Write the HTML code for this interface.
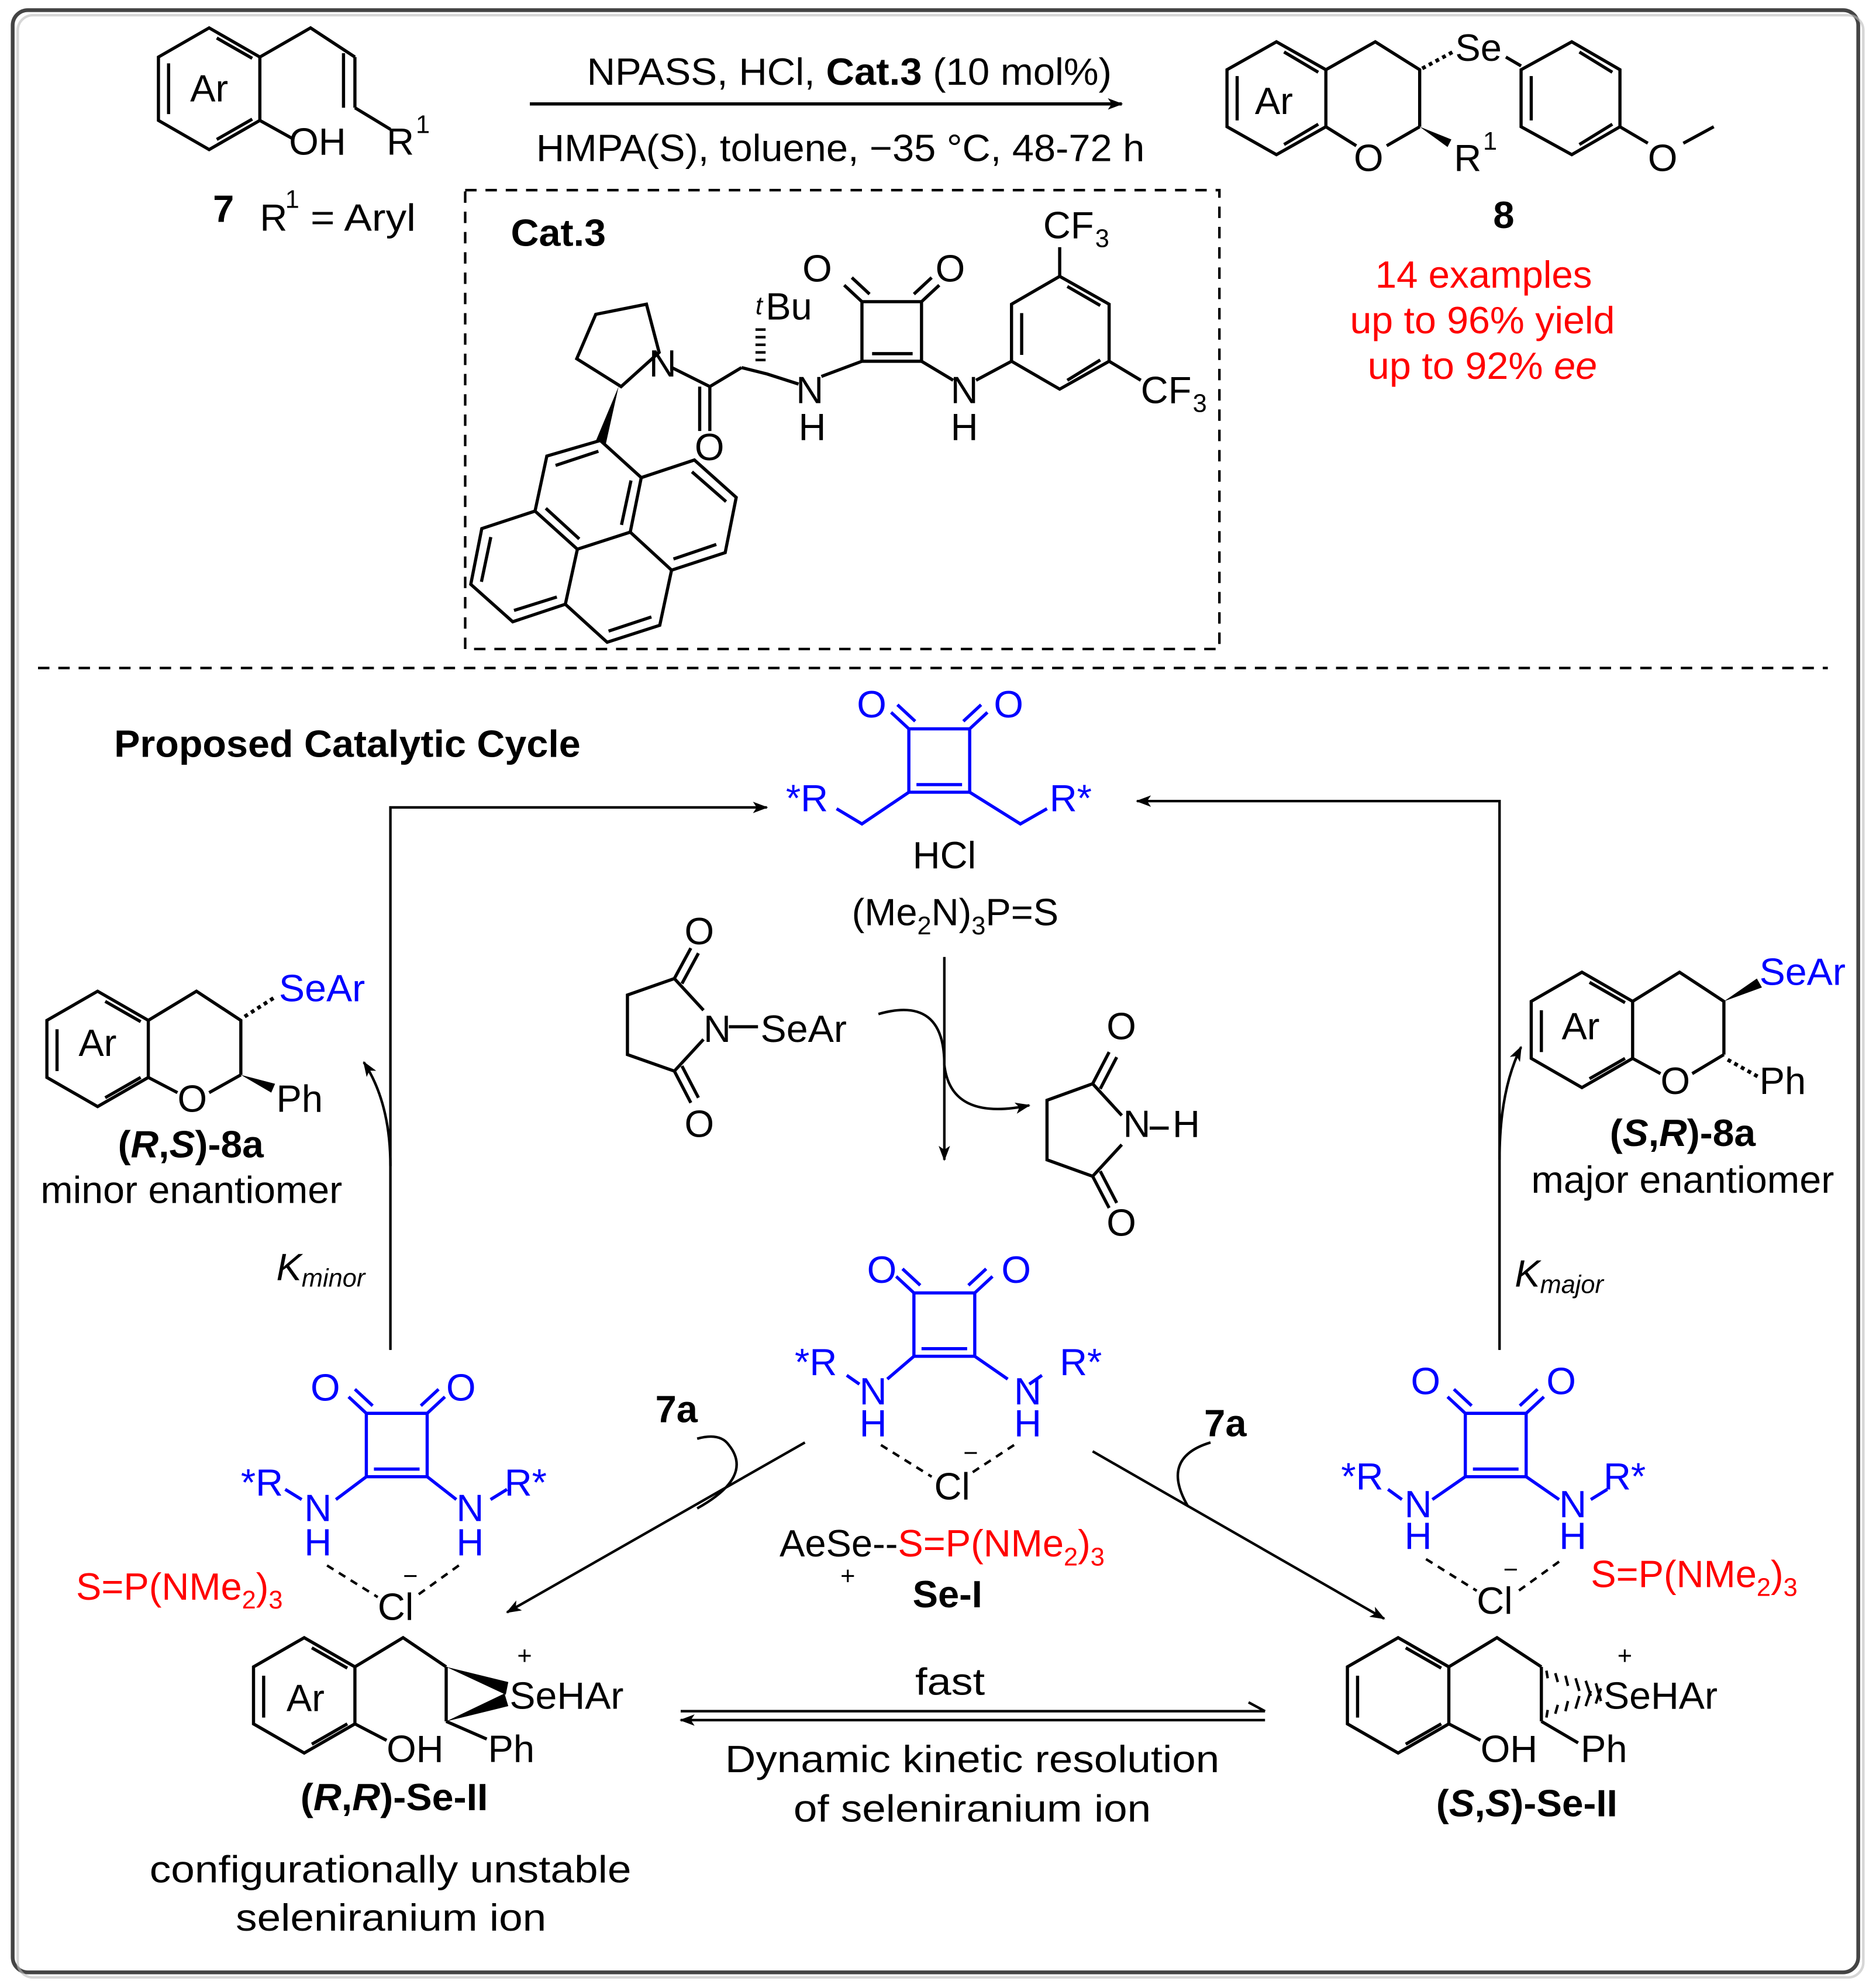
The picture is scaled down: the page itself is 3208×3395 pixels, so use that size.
<!DOCTYPE html>
<html><head><meta charset="utf-8"><style>
html,body{margin:0;padding:0;background:#fff}
svg{display:block}
text{font-family:"Liberation Sans",Arial,sans-serif;font-size:30px;fill:#000}
.b{font-weight:bold}
.r{fill:#f00}
.bl{fill:#00f}
.s{font-size:20px}
</style></head><body>
<svg width="3208" height="3395" viewBox="0 0 1480 1566" preserveAspectRatio="none" xmlns="http://www.w3.org/2000/svg">
<defs>
<marker id="ah" markerWidth="12" markerHeight="9" refX="11" refY="4.5" orient="auto" markerUnits="userSpaceOnUse"><path d="M0,0 L12,4.5 L0,9 L3,4.5z" fill="#000"/></marker>
<g id="sq" fill="none" stroke="#00f" stroke-width="2.5">
<path d="M-24,-25 L24,-25 L24,25 L-24,25 Z"/>
<path d="M-18,19 L18,19"/>
<path d="M-24,-25 L-38,-38 M-19,-31 L-33,-44"/>
<path d="M24,-25 L38,-38 M19,-31 L33,-44"/>
</g>
</defs>
<rect x="10" y="8" width="1456" height="1548" rx="12" fill="#fff" stroke="#444" stroke-width="3"/>
<rect x="14" y="12" width="1456" height="1548" rx="12" fill="none" stroke="#bbb" stroke-width="2" opacity=".6"/>
<line x1="30" y1="527" x2="1442" y2="527" stroke="#000" stroke-width="2" stroke-dasharray="9,7"/>
<rect x="367" y="150" width="595" height="362" fill="none" stroke="#000" stroke-width="2" stroke-dasharray="9,7"/>

<g fill="none" stroke="#000" stroke-width="2.5">
<path d="M125,45 L165,22 L205,45 L205,95 L165,118 L125,95 Z"/>
<path d="M133,50 L133,90 M171,110 L199,94 M171,30 L199,46"/>
<path d="M205,45 L245,22 L280,45 M271,42 L271,85 M280,45 L280,85 M280,85 L308,102"/>
<path d="M205,95 L232,110"/>
<line x1="418" y1="82" x2="885" y2="82" marker-end="url(#ah)"/>
<path d="M968,55 L1007,33 L1046,55 L1046,100 L1007,122 L968,100 Z"/>
<path d="M976,60 L976,95 M1013,114 L1040,98 M1013,41 L1040,57"/>
<path d="M1046,55 L1085,33 L1120,55 L1120,100 M1046,100 L1070,115 M1094,115 L1120,100"/>
<path d="M1122,54 L1148,40" stroke-dasharray="3,3" stroke-width="3"/>
<path d="M1188,45 L1200,52"/>
<path d="M1200,55 L1240,33 L1278,55 L1278,100 L1240,122 L1200,100 Z"/>
<path d="M1208,60 L1208,95 M1246,114 L1272,98 M1246,41 L1272,57"/>
<path d="M1278,100 L1300,113 M1328,113 L1352,100"/>
</g>
<path d="M1120,100 L1142,116 L1145,110 Z" fill="#000"/>
<text x="150" y="80">Ar</text>
<text x="228" y="122">OH</text>
<text x="305" y="122">R</text><text x="328" y="105" class="s">1</text>
<text x="168" y="175" class="b">7</text>
<text x="205" y="182">R</text><text x="225" y="164" class="s">1</text><text x="245" y="182" textLength="83" lengthAdjust="spacingAndGlyphs">= Aryl</text>
<text x="463" y="67" textLength="414" lengthAdjust="spacingAndGlyphs">NPASS, HCl, <tspan class="b">Cat.3</tspan> (10 mol%)</text>
<text x="423" y="127" textLength="480" lengthAdjust="spacingAndGlyphs">HMPA(S), toluene, −35 °C, 48-72 h</text>
<text x="990" y="90">Ar</text>
<text x="1068" y="135">O</text>
<text x="1147" y="135">R</text><text x="1170" y="118" class="s">1</text>
<text x="1148" y="48">Se</text>
<text x="1300" y="135">O</text>
<text x="1178" y="180" class="b">8</text>
<text x="1085" y="227" class="r" textLength="171" lengthAdjust="spacingAndGlyphs">14 examples</text>
<text x="1065" y="263" class="r" textLength="209" lengthAdjust="spacingAndGlyphs">up to 96% yield</text>
<text x="1079" y="299" class="r" textLength="181" lengthAdjust="spacingAndGlyphs">up to 92% <tspan font-style="italic">ee</tspan></text>

<!-- Cat.3 -->
<text x="403" y="194" class="b" textLength="75" lengthAdjust="spacingAndGlyphs">Cat.3</text>
<g fill="none" stroke="#000" stroke-width="2.5">
<path d="M455,283 L470,248 L510,240 L520,278 L490,305 Z"/>
<path d="M530,290 L560,305 L585,290 M560,305 L560,340 M552,305 L552,340"/>
<path d="M585,290 L605,295 L630,303"/>
<path d="M600,285 L600,257" stroke-width="8" stroke-dasharray="2,4"/>
<path d="M648,297 L680,285 L680,238 L727,238 L727,285 L680,285 M688,279 L720,279"/>
<path d="M680,238 L666,225 M686,232 L672,219 M727,238 L741,225 M721,232 L735,219"/>
<path d="M727,285 L752,300 M770,300 L798,285"/>
<path d="M798,285 L798,240 L836,218 L875,240 L875,285 L836,307 Z M806,247 L806,280 M842,300 L868,284 M842,226 L868,241"/>
<path d="M836,218 L836,195 M875,285 L900,300"/>
<!-- pyrene -->
<path d="M473.6,347.5 L431.4,359.8 L422.1,403.2 L455.5,433.3 L497.2,419.8 L505.9,376.8 Z"/>
<path d="M505.9,376.8 L547.8,362.9 L580.8,392.4 L572.1,436 L529.8,449.8 L497.2,419.8"/>
<path d="M422.1,403.2 L380.1,417 L371.4,461 L404.5,490.5 L446,476.7 L455.5,433.3"/>
<path d="M446,476.7 L479,506.7 L520.5,493.3 L529.8,449.8"/>
<path d="M438.3,367.2 L472.1,356 M430.6,401 L457,425.2 M490.3,414.1 L497.8,379.1 M545.9,372.2 L572.8,395.7 M531.3,441 L565.1,429.5 M379.8,459 L387.2,423.7 M405.5,481.6 L439.3,471 M480.1,497.9 L513.9,486.7"/>
</g>
<path d="M488,305 L470,348 L478,350 Z" fill="#000"/>
<text x="512" y="297">N</text>
<text x="548" y="363">O</text>
<text x="596" y="248" class="s" font-style="italic">t</text><text x="604" y="252">Bu</text>
<text x="633" y="222">O</text><text x="738" y="222">O</text>
<text x="628" y="318">N</text><text x="630" y="347">H</text>
<text x="750" y="318">N</text><text x="750" y="347">H</text>
<text x="823" y="188">CF</text><text x="864" y="195" class="s">3</text>
<text x="900" y="318">CF</text><text x="941" y="325" class="s">3</text>

<text x="90" y="597" class="b" textLength="368" lengthAdjust="spacingAndGlyphs">Proposed Catalytic Cycle</text>

<!-- cycle arrows -->
<g fill="none" stroke="#000" stroke-width="2">
<path d="M308,1065 L308,637 L605,637" marker-end="url(#ah)"/>
<path d="M1183,1065 L1183,632 L897,632" marker-end="url(#ah)"/>
<path d="M308,920 Q308,870 287,838" marker-end="url(#ah)"/>
<path d="M1183,915 Q1183,860 1200,826" marker-end="url(#ah)"/>
<line x1="745" y1="755" x2="745" y2="915" marker-end="url(#ah)"/>
<path d="M693,800 Q745,785 745,840 Q750,885 812,872" marker-end="url(#ah)"/>
<line x1="635" y1="1138" x2="400" y2="1272" marker-end="url(#ah)"/>
<line x1="862" y1="1145" x2="1092" y2="1277" marker-end="url(#ah)"/>
<path d="M550,1190 Q595,1165 575,1140 Q568,1130 550,1135" />
<path d="M937,1188 Q915,1150 955,1138"/>
<path d="M537,1350 L998,1350"/>
<path d="M998,1357 L537,1357" marker-end="url(#ah)"/>
<path d="M998,1350 L985,1343"/>
</g>

<!-- central top squaramide -->
<use href="#sq" x="741" y="600"/>
<g fill="none" stroke="#00f" stroke-width="2.5"><path d="M717,625 L680,650 L660,638 M765,625 L805,650 L826,638"/></g>
<text x="676" y="566" class="bl">O</text><text x="784" y="566" class="bl">O</text>
<text x="620" y="640" class="bl">*R</text><text x="828" y="640" class="bl">R*</text>
<text x="720" y="685" textLength="50" lengthAdjust="spacingAndGlyphs">HCl</text>
<text x="672" y="730">(Me<tspan class="s" dy="7">2</tspan><tspan dy="-7">N)</tspan><tspan class="s" dy="7">3</tspan><tspan dy="-7">P=S</tspan></text>

<!-- succinimides -->
<g fill="none" stroke="#000" stroke-width="2.5">
<path d="M555,797 L532,772 L495,785 L495,832 L532,845 L555,820"/>
<path d="M532,772 L545,748 M538,776 L551,752 M532,845 L545,870 M538,841 L551,866"/>
<path d="M575,810 L598,810"/>
<path d="M885,880 L862,855 L826,868 L826,915 L862,928 L885,903"/>
<path d="M862,855 L875,830 M868,859 L881,834 M862,928 L875,953 M868,924 L881,949"/>
<path d="M907,890 L922,890"/>
</g>
<text x="540" y="745">O</text><text x="540" y="897">O</text>
<text x="555" y="822">N</text><text x="600" y="822" textLength="68" lengthAdjust="spacingAndGlyphs">SeAr</text>
<text x="873" y="820">O</text><text x="873" y="975">O</text>
<text x="886" y="897">N</text><text x="925" y="897">H</text>

<!-- left product -->
<g fill="none" stroke="#000" stroke-width="2.5">
<path d="M37,805 L77,782 L117,805 L117,850 L77,873 L37,850 Z M45,812 L45,845 M83,866 L111,850 M83,790 L111,806"/>
<path d="M117,805 L155,782 L190,805 L190,848 M117,850 L140,862 M165,862 L190,848"/>
<path d="M193,802 L218,786" stroke-dasharray="3,3" stroke-width="3"/>
</g>
<path d="M190,848 L214,862 L217,855 Z" fill="#000"/>
<text x="62" y="833">Ar</text><text x="140" y="877">O</text><text x="218" y="877">Ph</text>
<text x="220" y="790" class="bl" textLength="68" lengthAdjust="spacingAndGlyphs">SeAr</text>
<text x="93" y="913" class="b" textLength="115" lengthAdjust="spacingAndGlyphs">(<tspan font-style="italic">R</tspan>,<tspan font-style="italic">S</tspan>)-8a</text>
<text x="32" y="949" textLength="238" lengthAdjust="spacingAndGlyphs">minor enantiomer</text>
<text x="218" y="1010" font-style="italic">K<tspan class="s" dy="5">minor</tspan></text>

<!-- right product -->
<g fill="none" stroke="#000" stroke-width="2.5">
<path d="M1208,790 L1248,767 L1288,790 L1288,835 L1248,858 L1208,835 Z M1216,797 L1216,830 M1254,851 L1282,835 M1254,775 L1282,791"/>
<path d="M1288,790 L1325,767 L1360,790 L1360,832 M1288,835 L1310,847 M1335,847 L1360,832"/>
<path d="M1363,836 L1388,850" stroke-dasharray="3,3" stroke-width="3"/>
</g>
<path d="M1360,790 L1386,772 L1390,779 Z" fill="#000"/>
<text x="1232" y="820">Ar</text><text x="1310" y="863">O</text><text x="1388" y="863">Ph</text>
<text x="1388" y="777" class="bl" textLength="68" lengthAdjust="spacingAndGlyphs">SeAr</text>
<text x="1270" y="904" class="b" textLength="115" lengthAdjust="spacingAndGlyphs">(<tspan font-style="italic">S</tspan>,<tspan font-style="italic">R</tspan>)-8a</text>
<text x="1208" y="941" textLength="239" lengthAdjust="spacingAndGlyphs">major enantiomer</text>
<text x="1195" y="1015" font-style="italic">K<tspan class="s" dy="5">major</tspan></text>

<!-- center Se-I squaramide -->
<use href="#sq" x="745" y="1045"/>
<g fill="none" stroke="#00f" stroke-width="2.5"><path d="M721,1070 L700,1088 M769,1070 L795,1088 M668,1085 L678,1092 M822,1085 L812,1092"/></g>
<text x="684" y="1012" class="bl">O</text><text x="790" y="1012" class="bl">O</text>
<text x="627" y="1085" class="bl">*R</text><text x="836" y="1085" class="bl">R*</text>
<text x="678" y="1108" class="bl">N</text><text x="678" y="1133" class="bl">H</text>
<text x="800" y="1108" class="bl">N</text><text x="800" y="1133" class="bl">H</text>
<path d="M695,1140 L735,1165 M800,1140 L765,1163" stroke="#000" stroke-width="2" stroke-dasharray="6,5"/>
<text x="737" y="1183">Cl</text><text x="760" y="1153" class="s">−</text>
<text x="615" y="1228">AeSe--<tspan class="r">S=P(NMe</tspan><tspan class="r s" dy="7">2</tspan><tspan class="r" dy="-7">)</tspan><tspan class="r s" dy="7">3</tspan></text>
<text x="663" y="1250" class="s">+</text>
<text x="720" y="1268" class="b">Se-I</text>
<text x="517" y="1122" class="b">7a</text>
<text x="950" y="1133" class="b">7a</text>

<!-- left squaramide -->
<use href="#sq" x="313" y="1140"/>
<g fill="none" stroke="#00f" stroke-width="2.5"><path d="M289,1165 L265,1183 M337,1165 L360,1183 M225,1175 L238,1183 M400,1175 L387,1183"/></g>
<text x="245" y="1105" class="bl">O</text><text x="352" y="1105" class="bl">O</text>
<text x="190" y="1180" class="bl">*R</text><text x="398" y="1180" class="bl">R*</text>
<text x="240" y="1200" class="bl">N</text><text x="240" y="1227" class="bl">H</text>
<text x="360" y="1200" class="bl">N</text><text x="360" y="1227" class="bl">H</text>
<path d="M258,1235 L298,1260 M362,1235 L330,1258" stroke="#000" stroke-width="2" stroke-dasharray="6,5"/>
<text x="298" y="1278">Cl</text><text x="318" y="1250" class="s">−</text>
<text x="60" y="1262" class="r">S=P(NMe<tspan class="s" dy="7">2</tspan><tspan dy="-7">)</tspan><tspan class="s" dy="7">3</tspan></text>

<!-- right squaramide -->
<use href="#sq" x="1180" y="1140"/>
<g fill="none" stroke="#00f" stroke-width="2.5"><path d="M1156,1165 L1130,1183 M1204,1165 L1230,1183 M1095,1175 L1106,1183 M1268,1175 L1255,1183"/></g>
<text x="1113" y="1100" class="bl">O</text><text x="1220" y="1100" class="bl">O</text>
<text x="1058" y="1175" class="bl">*R</text><text x="1265" y="1175" class="bl">R*</text>
<text x="1108" y="1197" class="bl">N</text><text x="1108" y="1222" class="bl">H</text>
<text x="1230" y="1197" class="bl">N</text><text x="1230" y="1222" class="bl">H</text>
<path d="M1125,1230 L1165,1255 M1230,1232 L1198,1255" stroke="#000" stroke-width="2" stroke-dasharray="6,5"/>
<text x="1165" y="1273">Cl</text><text x="1186" y="1245" class="s">−</text>
<text x="1255" y="1252" class="r">S=P(NMe<tspan class="s" dy="7">2</tspan><tspan dy="-7">)</tspan><tspan class="s" dy="7">3</tspan></text>

<!-- left seleniranium -->
<g fill="none" stroke="#000" stroke-width="2.5">
<path d="M200,1315 L240,1292 L280,1315 L280,1360 L240,1383 L200,1360 Z M208,1322 L208,1355 M246,1376 L274,1360 M246,1300 L274,1316"/>
<path d="M280,1315 L318,1292 L352,1315 M280,1360 L305,1373"/>
<path d="M352,1315 L352,1358 M352,1358 L384,1372"/>
</g>
<path d="M352,1315 L401,1327 L399,1337 Z M352,1358 L398,1336 L401,1346 Z" fill="#000"/>
<text x="226" y="1350">Ar</text><text x="305" y="1390">OH</text><text x="385" y="1390">Ph</text>
<text x="402" y="1348" textLength="90" lengthAdjust="spacingAndGlyphs">SeHAr</text><text x="408" y="1313" class="s">+</text>
<text x="237" y="1428" class="b" textLength="148" lengthAdjust="spacingAndGlyphs">(<tspan font-style="italic">R</tspan>,<tspan font-style="italic">R</tspan>)-Se-II</text>
<text x="118" y="1485" textLength="380" lengthAdjust="spacingAndGlyphs">configurationally unstable</text>
<text x="186" y="1523" textLength="245" lengthAdjust="spacingAndGlyphs">seleniranium ion</text>

<text x="722" y="1337" textLength="55" lengthAdjust="spacingAndGlyphs">fast</text>
<text x="572" y="1398" textLength="390" lengthAdjust="spacingAndGlyphs">Dynamic kinetic resolution</text>
<text x="626" y="1437" textLength="282" lengthAdjust="spacingAndGlyphs">of seleniranium ion</text>

<!-- right seleniranium -->
<g fill="none" stroke="#000" stroke-width="2.5">
<path d="M1063,1315 L1103,1292 L1143,1315 L1143,1360 L1103,1383 L1063,1360 Z M1071,1322 L1071,1355 M1109,1376 L1137,1360 M1109,1300 L1137,1316"/>
<path d="M1143,1315 L1181,1292 L1216,1315 M1143,1360 L1168,1373"/>
<path d="M1216,1315 L1216,1358 M1216,1358 L1245,1375"/>
</g>
<g stroke="#000" stroke-width="2">
<path d="M1220,1318 L1221,1324 M1227,1320 L1229,1327 M1235,1322 L1237,1330 M1243,1324 L1246,1334 M1251,1326 L1255,1338 M1259,1328 L1263,1342"/>
<path d="M1220,1355 L1221,1349 M1227,1352 L1229,1345 M1235,1350 L1237,1342 M1243,1348 L1246,1338 M1251,1346 L1255,1334 M1259,1344 L1263,1332"/>
</g>
<text x="1168" y="1390">OH</text><text x="1247" y="1390">Ph</text>
<text x="1265" y="1348" textLength="90" lengthAdjust="spacingAndGlyphs">SeHAr</text><text x="1276" y="1313" class="s">+</text>
<text x="1133" y="1433" class="b" textLength="143" lengthAdjust="spacingAndGlyphs">(<tspan font-style="italic">S</tspan>,<tspan font-style="italic">S</tspan>)-Se-II</text>
</svg>
</body></html>
